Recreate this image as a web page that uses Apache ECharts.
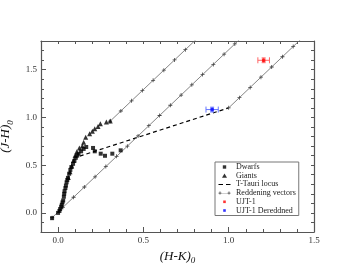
<!DOCTYPE html>
<html><head><meta charset="utf-8">
<script src="https://cdn.jsdelivr.net/npm/echarts@6/dist/echarts.min.js"></script>
<style>html,body{margin:0;padding:0;background:#fff}#c{width:354px;height:273px}</style>
</head><body><div id="c"></div>
<script>
// ---- data ----
const dwarfs = [[-0.035,-0.055],[0.0,0.0],[0.008,0.02],[0.012,0.04],[0.018,0.065],[0.022,0.085],[0.026,0.11],[0.03,0.13],[0.034,0.17],[0.036,0.2],[0.038,0.227],[0.043,0.26],[0.046,0.286],[0.05,0.32],[0.054,0.345],[0.058,0.367],[0.065,0.41],[0.072,0.45],[0.078,0.48],[0.088,0.514],[0.096,0.545],[0.104,0.577],[0.112,0.6],[0.12,0.62],[0.135,0.645],[0.15,0.67],[0.165,0.69],[0.205,0.68],[0.215,0.645],[0.25,0.62],[0.275,0.598],[0.318,0.62],[0.367,0.655]];
const giants = [[0.06,0.37],[0.07,0.43],[0.08,0.49],[0.09,0.55],[0.1,0.6],[0.11,0.64],[0.125,0.68],[0.142,0.7],[0.15,0.74],[0.162,0.793],[0.185,0.829],[0.201,0.856],[0.215,0.881],[0.234,0.906],[0.248,0.934],[0.283,0.951],[0.306,0.961]];
const ttauriLocus = [[0.127,0.594],[1.0,1.1]];
const reddeningDwarf = [[-0.035,-0.05],[0.028,0.057],[0.091,0.164],[0.154,0.271],[0.217,0.378],[0.28,0.485],[0.343,0.592],[0.406,0.699],[0.469,0.806],[0.532,0.913],[0.595,1.02],[0.658,1.127],[0.721,1.234],[0.784,1.341],[0.847,1.448],[0.91,1.555],[0.973,1.662],[1.036,1.769],[1.099,1.876]];
const reddeningGiant = [[0.305,0.96],[0.368,1.067],[0.431,1.174],[0.494,1.281],[0.557,1.388],[0.62,1.495],[0.683,1.602],[0.746,1.709],[0.809,1.816]];
const reddeningTTauri = [[1.0,1.1],[1.063,1.207],[1.126,1.314],[1.189,1.421],[1.252,1.528],[1.315,1.635],[1.378,1.742],[1.441,1.849]];
const ujt1 = [[1.205,1.598]];
const ujt1Err = [[1.205,1.598,0.034,0.025]];
const ujt1Dered = [[0.903,1.082]];
const ujt1DeredErr = [[0.903,1.082,0.036,0.025]];
const legendNames = ['Dwarfs','Giants','T-Tauri locus','Reddening vectors','UJT-1','UJT-1 Dereddned'];
const xMajorTicks = [0,0.5,1.0,1.5];
const xMinorTicks = [-0.1,0,0.1,0.2,0.3,0.4,0.5,0.6,0.7,0.8,0.9,1.0,1.1,1.2,1.3,1.4,1.5];
const yMajorTicks = [0,0.5,1.0,1.5];
const yMinorTicks = [-0.2,-0.1,0,0.1,0.2,0.3,0.4,0.5,0.6,0.7,0.8,0.9,1.0,1.1,1.2,1.3,1.4,1.5,1.6,1.7,1.8];

const AX = '#555';
const FONT = 'Liberation Serif';
const chart = echarts.init(document.getElementById('c'), null, {renderer:'canvas'});

function errRender(params, api){
  const x=api.value(0), y=api.value(1), ex=api.value(2), ey=api.value(3);
  const l=api.coord([x-ex,y]), r=api.coord([x+ex,y]), b=api.coord([x,y-ey]), t=api.coord([x,y+ey]);
  const c=api.visual('color'); const cap=3, cap2=2;
  const st={stroke:c,lineWidth:1};
  return {type:'group', children:[
    {type:'line', shape:{x1:l[0],y1:l[1],x2:r[0],y2:r[1]}, style:st},
    {type:'line', shape:{x1:l[0],y1:l[1]-cap,x2:l[0],y2:l[1]+cap}, style:st},
    {type:'line', shape:{x1:r[0],y1:r[1]-cap,x2:r[0],y2:r[1]+cap}, style:st},
    {type:'line', shape:{x1:b[0],y1:b[1],x2:t[0],y2:t[1]}, style:st},
    {type:'line', shape:{x1:b[0]-cap2,y1:b[1],x2:b[0]+cap2,y2:b[1]}, style:st},
    {type:'line', shape:{x1:t[0]-cap2,y1:t[1],x2:t[0]+cap2,y2:t[1]}, style:st}
  ]};
}

const fmt = v => Number(v).toFixed(1);
const plus = 'path://M4,0h2v4h4v2h-4v4h-2v-4h-4v-2h4z';
const redLine = (data) => ({name:'Reddening vectors', type:'line', data, symbol:plus, symbolSize:4,
  itemStyle:{color:'#444'}, lineStyle:{color:'#666', width:0.8}, clip:true, silent:true, z:2});

// legend icons (13x5 box so nothing is stretched)
const BOX = 'M0,0L0,0M13,5L13,5';
const icons = {
  'Dwarfs': 'path://' + BOX + 'M4.8,0.8h3.4v3.4h-3.4z',
  'Giants': 'path://' + BOX + 'M6.5,0.3L9,4.6L4,4.6z',
  'T-Tauri locus': 'path://' + BOX + 'M0.5,2h4.5v1.1h-4.5zM8,2h4.5v1.1h-4.5z',
  'Reddening vectors': 'path://' + BOX + 'M1.6,1h0.8v3h-0.8zM0.5,2.1h3v0.8h-3zM3.5,2.3h6v0.4h-6zM10.6,1h0.8v3h-0.8zM9.5,2.1h3v0.8h-3z',
  'UJT-1': 'path://' + BOX + 'M5.2,1.2h2.6v2.6h-2.6z',
  'UJT-1 Dereddned': 'path://' + BOX + 'M5.2,1.2h2.6v2.6h-2.6z'
};

chart.setOption({
  animation:false,
  backgroundColor:'#fff',
  grid:{left:41, right:40, top:41, bottom:41, containLabel:false, outerBoundsMode:'none'},
  xAxis:[
    {type:'value', min:-0.1, max:1.5, position:'bottom',
     axisLine:{show:true, onZero:false, lineStyle:{color:AX, width:1.2}},
     axisTick:{show:true, inside:true, length:5, customValues:xMajorTicks, lineStyle:{color:AX}},
     axisLabel:{show:true, customValues:xMajorTicks, formatter:fmt, margin:4, fontFamily:FONT, fontSize:9, color:'#333'},
     splitLine:{show:false},
     name:'{a|(H-K)}{b|0}', nameLocation:'middle', nameGap:15,
     nameTextStyle:{rich:{a:{fontFamily:FONT, fontStyle:'italic', fontSize:13, color:'#111'},
                          b:{fontFamily:FONT, fontStyle:'italic', fontSize:9, color:'#111', padding:[9,0,0,0]}}}},
    {type:'value', min:-0.1, max:1.5, position:'bottom',
     axisLine:{show:false, onZero:false},
     axisTick:{show:true, inside:true, length:3, customValues:xMinorTicks, lineStyle:{color:AX}},
     axisLabel:{show:false}, splitLine:{show:false}},
    {type:'value', min:-0.1, max:1.5, position:'top',
     axisLine:{show:true, onZero:false, lineStyle:{color:AX, width:1.2}},
     axisTick:{show:true, inside:true, length:3, customValues:xMinorTicks, lineStyle:{color:AX}},
     axisLabel:{show:false}, splitLine:{show:false}}
  ],
  yAxis:[
    {type:'value', min:-0.2, max:1.8, position:'left',
     axisLine:{show:true, onZero:false, lineStyle:{color:AX, width:1.2}},
     axisTick:{show:true, inside:true, length:5, customValues:yMajorTicks, lineStyle:{color:AX}},
     axisLabel:{show:true, customValues:yMajorTicks, formatter:fmt, margin:4, fontFamily:FONT, fontSize:9, color:'#333'},
     splitLine:{show:false},
     name:'{a|(J-H)}{b|0}', nameLocation:'middle', nameGap:24, nameRotate:90,
     nameTextStyle:{rich:{a:{fontFamily:FONT, fontStyle:'italic', fontSize:13, color:'#111'},
                          b:{fontFamily:FONT, fontStyle:'italic', fontSize:9, color:'#111', padding:[9,0,0,0]}}}},
    {type:'value', min:-0.2, max:1.8, position:'left',
     axisLine:{show:false, onZero:false},
     axisTick:{show:true, inside:true, length:3, customValues:yMinorTicks, lineStyle:{color:AX}},
     axisLabel:{show:false}, splitLine:{show:false}},
    {type:'value', min:-0.2, max:1.8, position:'right',
     axisLine:{show:true, onZero:false, lineStyle:{color:AX, width:1.2}},
     axisTick:{show:true, inside:true, length:3, customValues:yMinorTicks, lineStyle:{color:AX}},
     axisLabel:{show:false}, splitLine:{show:false}}
  ],
  legend:{
    orient:'vertical', left:215, top:162,
    data: legendNames.map(n => ({name:n, icon:icons[n]})),
    itemWidth:13, itemHeight:5, itemGap:0.7,
    textStyle:{fontFamily:FONT, fontSize:8, color:'#222', lineHeight:8},
    borderColor:'#777', borderWidth:1, borderRadius:0, padding:[1,3,1,3], backgroundColor:'#fff'
  },
  series:[
    {name:'Dwarfs', type:'scatter', data:dwarfs, symbol:'rect', symbolSize:4, itemStyle:{color:'#000'}, z:3},
    {name:'Giants', type:'scatter', data:giants, symbol:'triangle', symbolSize:5, itemStyle:{color:'#000'}, z:3},
    {name:'T-Tauri locus', type:'line', data:ttauriLocus, symbol:'none', lineStyle:{color:'#000', width:1.2, type:[4,3]}, itemStyle:{color:'#000'}, z:2},
    redLine(reddeningDwarf), redLine(reddeningGiant), redLine(reddeningTTauri),
    {name:'UJT-1', type:'scatter', data:ujt1, symbol:'rect', symbolSize:3.5, itemStyle:{color:'#ff0000'}, z:5},
    {name:'UJT-1 Dereddned', type:'scatter', data:ujt1Dered, symbol:'rect', symbolSize:3.5, itemStyle:{color:'#0000ff'}, z:5},
    {name:'ujt1err', type:'custom', data:ujt1Err, renderItem:errRender, itemStyle:{color:'#ff6666'}, z:4},
    {name:'ujt1derederr', type:'custom', data:ujt1DeredErr, renderItem:errRender, itemStyle:{color:'#6677ff'}, z:4}
  ]
});
</script></body></html>
